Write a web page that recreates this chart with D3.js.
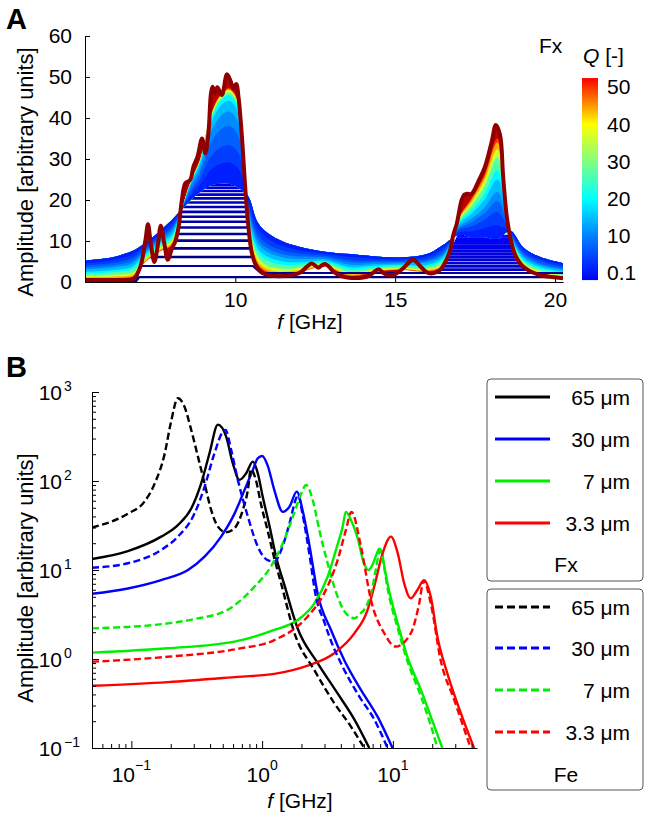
<!DOCTYPE html>
<html><head><meta charset="utf-8">
<script src="https://cdn.jsdelivr.net/npm/d3@7"></script>
<style>
body{margin:0;background:#fff;}
svg text{font-family:"Liberation Sans",Arial,Helvetica,sans-serif;fill:#000;}
</style></head><body>
<svg id="chart" width="650" height="817"></svg>
<script>
// ================= Panel A data =================
const fGridA = [5.3,5.8,6.3,6.8,7.1,7.4,7.7,8.0,8.3,8.6,8.9,9.2,9.5,9.8,10.1,10.4,10.7,11.0,11.5,12.0,12.8,13.6,14.4,15.2,16.0,16.5,17.0,17.4,17.8,18.2,18.6,19.0,19.5,20.25];
const qLevelsA = [7,8.5,10,12,14,17,20,26,32,38,44];
const ampQ7   = [5.2,5.6,6.3,7.6,9.0,10.8,12.8,15.0,17.5,20,22,23.5,24,24,23,21,14.5,12,9.8,8.6,7.4,6.8,6.2,6.0,6.8,9.0,11.5,11,11,10.5,12.5,8.5,6.2,4.6];
const ampQ8_5 = [4.6,4.9,5.6,6.7,8.4,10.2,12.1,14.2,17.4,21.0,23.8,27.1,28.7,29.2,27.6,20.1,13.1,10.7,8.7,7.7,6.9,6.1,5.7,5.6,6.2,8.3,12.1,12.3,13.1,13.8,12.3,7.9,5.6,4.1];
const ampQ10  = [4.0,4.3,4.8,5.9,7.7,9.6,11.4,13.3,17.4,21.8,25.2,30.1,32.6,33.4,31.4,19.2,11.7,9.3,7.6,6.9,6.4,5.3,5.2,5.2,5.6,7.6,12.7,13.6,15.2,17.1,12.1,7.3,5.1,3.6];
const ampQ12  = [3.5,3.8,4.2,5.2,7.2,9.1,10.9,12.7,17.3,22.7,26.8,33.4,36.9,38.1,35.6,18.5,10.6,8.3,6.7,6.2,6.0,4.8,4.8,4.9,5.2,7.0,13.1,14.6,16.8,19.7,12.0,6.8,4.6,3.3];
const ampQ14  = [3.1,3.3,3.7,4.6,6.8,8.6,10.4,12.1,17.3,23.4,28.0,35.9,40.1,41.6,38.8,17.9,9.6,7.4,6.0,5.6,5.6,4.2,4.4,4.6,4.8,6.5,13.5,15.5,18.2,22.0,11.8,6.3,4.2,2.9];
const ampQ17  = [2.5,2.7,3.0,3.8,6.2,8.1,9.8,11.3,17.2,23.9,28.9,37.7,42.5,44.2,41.1,17.0,8.3,6.2,5.0,4.8,5.2,3.6,4.0,4.2,4.2,5.9,14.1,16.7,20.1,25.0,11.6,5.8,3.7,2.5];
const ampQ20  = [2.1,2.2,2.5,3.2,5.7,7.6,9.3,10.7,17.2,24.1,29.4,38.7,43.8,45.6,42.3,16.4,7.4,5.3,4.2,4.2,4.8,3.0,3.6,3.9,3.8,5.4,14.5,17.6,21.6,27.3,11.5,5.3,3.3,2.2];
const ampQ26  = [1.5,1.6,1.8,2.4,5.1,7.1,8.7,9.9,17.1,24.3,29.6,39.2,44.4,46.3,43.0,15.5,6.1,4.0,3.2,3.5,4.4,2.4,3.2,3.5,3.3,4.7,15.0,18.8,23.5,30.4,11.3,4.8,2.8,1.7];
const ampQ32  = [1.2,1.2,1.4,1.8,4.7,6.7,8.2,9.4,17.1,24.4,29.8,39.5,44.9,46.8,43.4,15.0,5.2,3.2,2.5,2.9,4.0,1.9,2.8,3.2,2.9,4.3,15.4,19.6,24.8,32.4,11.2,4.4,2.4,1.4];
const ampQ38  = [0.9,0.9,1.0,1.4,4.4,6.4,7.9,9.0,17.0,24.4,29.8,39.7,45.1,47.0,43.6,14.6,4.6,2.6,2.0,2.5,3.8,1.6,2.6,3.1,2.7,3.9,15.6,20.2,25.7,34.0,11.1,4.1,2.2,1.2];
const ampQ44  = [0.7,0.7,0.8,1.2,4.2,6.2,7.7,8.8,17.0,24.5,29.9,39.8,45.3,47.3,43.8,14.3,4.1,2.2,1.6,2.3,3.7,1.3,2.5,2.9,2.5,3.7,15.8,20.6,26.4,35.0,11.1,3.9,2.0,1.0];
// Q = 50 envelope (thick dark-red curve)
const envQ50 = [[5.3,0.5],[6.0,0.5],[6.6,0.55],[6.82,0.8],[7.03,3.7],[7.19,10.2],[7.27,14.1],[7.36,9.2],[7.47,4.9],[7.57,8.6],[7.67,13.7],[7.78,9.4],[7.89,5.4],[8.02,8.2],[8.12,9.8],[8.23,13.5],[8.33,20],[8.44,24.1],[8.59,24.9],[8.69,28.1],[8.82,30.6],[8.96,35.0],[9.06,31.4],[9.16,36.3],[9.24,46],[9.29,47.6],[9.37,46],[9.44,47.5],[9.58,45.6],[9.74,50.7],[9.86,48.9],[9.94,47.2],[10.03,48.3],[10.1,45.2],[10.2,36.3],[10.31,23.2],[10.41,13.5],[10.52,7],[10.67,3.7],[10.85,2.2],[11.1,1.6],[11.6,1.5],[12.03,2.3],[12.25,3.8],[12.39,4.5],[12.5,4.0],[12.6,3.5],[12.7,4.0],[12.81,4.4],[12.95,3.6],[13.07,2.5],[13.3,1.5],[13.5,1.1],[14.0,1.1],[14.2,1.6],[14.32,2.3],[14.48,3.1],[14.63,2.2],[14.8,1.7],[14.94,1.7],[15.1,2.4],[15.26,3.4],[15.45,4.9],[15.57,5.5],[15.7,4.6],[15.78,3.9],[15.95,2.6],[16.09,2.1],[16.25,2.3],[16.4,2.9],[16.55,4.6],[16.72,7.8],[16.82,11.5],[16.93,14.3],[17.08,20],[17.16,21.3],[17.24,21.5],[17.39,21.5],[17.6,24.5],[17.81,28.1],[18.02,34.2],[18.15,38.3],[18.28,35.9],[18.38,25.5],[18.51,14.9],[18.7,7.8],[18.85,5.2],[19.01,3.7],[19.25,2.5],[19.53,1.7],[19.9,1.2],[20.25,0.9]];
// low-Q curves seen as flat segments inside the 7-10.5 GHz band
const lowQHeights = [6.1,8.2,10.1,11.7,13.3,14.7,15.9,17.1,18.3,19.4,20.4,21.3,22.2,23.0,23.7];
const lowQStart   = [7.12,7.75,8.1,8.16,8.21,8.24,8.26,8.28,8.29,8.3,8.31,8.32,8.33,8.36,8.4];
const lowQEnd     = [10.55,10.5,10.46,10.43,10.41,10.4,10.385,10.37,10.36,10.35,10.34,10.33,10.32,10.31,10.3];
// low-Q curves inside the 17-18.5 GHz band
const peak2Heights = [3.0,3.8,4.6,5.4,6.1,6.8,7.5,8.2,8.8,9.4,10.0,10.6,11.2];
const peak2Start   = [16.41,16.46,16.51,16.56,16.61,16.65,16.7,16.74,16.78,16.82,16.86,16.9,16.93];
const peak2End     = [19.15,19.0,18.91,18.84,18.8,18.76,18.72,18.69,18.67,18.66,18.64,18.62,18.6];
// lowest-Q curves (nearly flat)
const baseQ01 = [[5.3,0.25],[6.9,0.25],[7.0,1.2],[20.25,1.2]];
const baseQ05 = [[5.3,0.3],[6.9,0.3],[7.02,3.9],[10.55,3.9],[10.8,2.2],[20.25,2.2]];
const xTicksA = [10,15,20];
const yTicksA = [0,10,20,30,40,50,60];
const cbTicks = [0.1,10,20,30,40,50];
const cbTickLabels = ["0.1","10","20","30","40","50"];

// ================= Panel B data =================
const fx65 = [[0.05,13.3],[0.094,16.3],[0.169,23.7],[0.227,32],[0.287,49],[0.342,94],[0.396,205],[0.459,430],[0.531,315],[0.597,158],[0.671,103],[0.755,122],[0.849,165],[0.927,122],[1.01,67],[1.14,31],[1.28,14],[1.48,6.8],[1.87,2.2],[2.66,0.9],[3.78,0.41],[5.07,0.21],[6.6,0.1]];
const fx30 = [[0.05,5.4],[0.094,6.2],[0.169,7.7],[0.271,10],[0.363,14.1],[0.486,23.7],[0.615,43],[0.733,79],[0.849,133],[0.927,180],[1.0,191],[1.1,151],[1.24,79],[1.44,45],[1.62,51.5],[1.84,76],[2.04,47],[2.3,19],[2.66,5.4],[3.37,2.1],[4.25,0.97],[5.7,0.45],[7.64,0.225],[9.94,0.1]];
const fx7  = [[0.05,1.18],[0.19,1.32],[0.615,1.57],[1.24,2.12],[1.87,2.74],[2.51,4.22],[3.17,8.4],[3.67,16.8],[4.13,30.7],[4.37,45],[4.8,36],[5.37,23],[6.0,12],[6.5,10],[7.0,11.5],[7.5,15],[7.9,17.3],[8.3,15],[8.6,11],[9.1,7.1],[10.9,2.5],[12.9,1.06],[16.4,0.45],[19.5,0.225],[23.9,0.1]];
const fx33 = [[0.05,0.5],[0.19,0.55],[0.65,0.63],[1.24,0.68],[2.23,0.84],[3.56,1.16],[5.07,1.94],[6.4,3.55],[7.2,6.5],[8.35,15.4],[9.67,23.7],[10.9,15.4],[12.2,7.1],[13.7,4.8],[15.4,5.96],[17.3,7.7],[19.5,5.0],[21.9,1.78],[26.1,0.69],[33.0,0.25],[41.8,0.1]];
const fe65 = [[0.05,30],[0.094,43],[0.126,58.6],[0.151,94],[0.18,204],[0.2,445],[0.227,850],[0.255,683],[0.287,374],[0.323,188],[0.363,94],[0.408,47],[0.459,30.7],[0.531,26.5],[0.615,29.4],[0.711,47],[0.778,79],[0.82,135],[0.9,100],[0.98,55],[1.1,28],[1.24,13.5],[1.4,7],[1.77,1.94],[2.51,0.75],[3.56,0.32],[4.78,0.174],[6.04,0.1]];
const fe30 = [[0.05,10.6],[0.094,11.9],[0.169,16.8],[0.227,23.7],[0.304,43],[0.363,86],[0.432,205],[0.501,358],[0.525,374],[0.58,223],[0.652,103],[0.778,39.8],[0.927,18.3],[1.1,12.9],[1.24,12.4],[1.4,16.8],[1.62,33.4],[1.82,64],[1.88,70],[2.04,42],[2.3,15],[2.58,5.0],[2.99,2.6],[3.27,1.78],[4.13,0.82],[5.53,0.38],[7.2,0.21],[9.1,0.1]];
const fe7  = [[0.05,2.21],[0.19,2.51],[0.3,2.8],[0.55,3.6],[0.875,6.5],[1.17,11],[1.48,22],[1.77,45],[1.99,72],[2.17,90],[2.44,61],[2.74,28],[3.17,11.9],[3.78,5.0],[4.37,3.26],[5.07,2.87],[5.6,3.2],[6.4,4.2],[7.0,6.5],[7.4,10],[8.0,16.5],[8.5,11.5],[9.1,6.3],[10.9,2.2],[12.9,0.95],[16.4,0.38],[19.5,0.18],[21.9,0.1]];
const fe33 = [[0.05,0.93],[0.19,1.06],[0.65,1.3],[1.24,1.63],[2.23,3.0],[2.99,5.5],[3.78,12.9],[4.37,28],[4.83,45],[5.7,18.3],[6.8,4.6],[8.6,1.94],[10.5,1.38],[13.7,1.94],[15.9,4.2],[17.2,7.6],[19.5,4.2],[23.2,0.97],[29.4,0.35],[39.4,0.1]];
const sizeLabels = ["65 \u03bcm","30 \u03bcm","7 \u03bcm","3.3 \u03bcm"];
const sizeColors = ["#000000","#0000ff","#00ee00","#ff0000"];
const yTicksB = [0.1,1,10,100,1000];
const yExpB = ["\u22121","0","1","2","3"];
const xTicksB = [0.1,1,10];
const xExpB = ["\u22121","0","1"];

// ================= helpers =================
function jet(t){
  const c = v => Math.max(0, Math.min(1, v));
  return d3.rgb(255*c(1.5-Math.abs(4*t-3)), 255*c(1.5-Math.abs(4*t-2)), 255*c(1.5-Math.abs(4*t-1))).toString();
}
const FS = 21, FT = 22;
const svg = d3.select("#chart");
const defs = svg.append("defs");

// ================= Panel A =================
const xA = d3.scaleLinear().domain([5.3, 20.25]).range([85, 563]);
const yA = d3.scaleLinear().domain([0, 60]).range([282, 36]);
defs.append("clipPath").attr("id","clipA").append("rect")
  .attr("x",85).attr("y",20).attr("width",478).attr("height",262);
const plotA = svg.append("g").attr("clip-path","url(#clipA)");

lowQHeights.forEach((h,i)=>{
  plotA.append("line").attr("x1",xA(lowQStart[i])).attr("x2",xA(lowQEnd[i]))
    .attr("y1",yA(h)).attr("y2",yA(h))
    .attr("stroke", jet(0.005 + i*0.006)).attr("stroke-width",2.6);
});
peak2Heights.forEach((h,i)=>{
  plotA.append("line").attr("x1",xA(peak2Start[i])).attr("x2",xA(peak2End[i]))
    .attr("y1",yA(h)).attr("y2",yA(h))
    .attr("stroke", jet(0.07 + i*0.005)).attr("stroke-width",2.8);
});

const curvesA = [ampQ7, ampQ8_5, ampQ10, ampQ12, ampQ14, ampQ17, ampQ20, ampQ26, ampQ32, ampQ38, ampQ44];
const toPts = arr => fGridA.map((f,i)=>[xA(f), yA(arr[i])]);
const envPts = envQ50.map(d=>[xA(d[0]), yA(d[1])]);
const cr = d3.line().curve(d3.curveCatmullRom.alpha(0.5));
const topPath = cr(toPts(ampQ7));
const bands = [];
for (let i=1;i<curvesA.length;i++) bands.push({pts: toPts(curvesA[i]), q:(qLevelsA[i-1]+qLevelsA[i])/2});
bands.push({pts: envPts, q:(44+50)/2});
bands.slice().reverse().forEach(b=>{
  const back = cr(b.pts.slice().reverse()).replace(/^M/,"L");
  plotA.append("path").attr("d", topPath + back + "Z")
    .attr("fill", jet(b.q/50)).attr("stroke","none");
});
const lin = d3.line().x(d=>xA(d[0])).y(d=>yA(d[1]));
plotA.append("path").attr("d", lin(baseQ05)).attr("fill","none").attr("stroke","#00009a").attr("stroke-width",2.2);
plotA.append("path").attr("d", lin(baseQ01)).attr("fill","none").attr("stroke","#000080").attr("stroke-width",2.2);
plotA.append("path").attr("d", cr(envPts)).attr("fill","none")
  .attr("stroke","#900000").attr("stroke-width",4).attr("stroke-linejoin","round");

const axYA = svg.append("g").attr("transform","translate(85,0)")
  .call(d3.axisLeft(yA).tickValues(yTicksA).tickSize(-5).tickSizeOuter(0).tickPadding(13));
const axXA = svg.append("g").attr("transform","translate(0,282)")
  .call(d3.axisBottom(xA).tickValues(xTicksA).tickSize(-5).tickSizeOuter(0).tickPadding(10));
[axYA, axXA].forEach(g=>{
  g.attr("font-size",FS).attr("font-family","Liberation Sans, Arial, sans-serif");
  g.selectAll("text").attr("fill","#000");
  g.selectAll("line,path").attr("stroke","#000");
});
svg.append("text").attr("transform","translate(33,172) rotate(-90)")
  .attr("text-anchor","middle").attr("font-size",FT).text("Amplitude [arbitrary units]");
const xtA = svg.append("text").attr("x",310).attr("y",329).attr("text-anchor","middle").attr("font-size",FS);
xtA.append("tspan").attr("font-style","italic").text("f");
xtA.append("tspan").text(" [GHz]");
svg.append("text").attr("x",6).attr("y",29).attr("font-size",29).attr("font-weight","bold").text("A");

// colorbar
const cbY = d3.scaleLinear().domain([0.1,50]).range([273,87]);
const cbLo = -1.8, cbHi = 52.4;
const gradStopsQ = [cbLo,10,20,30,40,cbHi];
const gradStopsT = [0.12,0.25,0.375,0.5,0.625,0.88];
const grad = defs.append("linearGradient").attr("id","cbGrad")
  .attr("x1",0).attr("y1",1).attr("x2",0).attr("y2",0);
gradStopsQ.forEach((q,i)=>{
  grad.append("stop").attr("offset",(cbY(cbLo)-cbY(q))/(cbY(cbLo)-cbY(cbHi)))
    .attr("stop-color", jet(gradStopsT[i]));
});
svg.append("rect").attr("x",582).attr("y",cbY(cbHi)).attr("width",16)
  .attr("height",cbY(cbLo)-cbY(cbHi)).attr("fill","url(#cbGrad)");
cbTicks.forEach((q,i)=>{
  svg.append("text").attr("x",607).attr("y",cbY(q)).attr("dy","0.35em")
    .attr("font-size",FS).text(cbTickLabels[i]);
});
svg.append("text").attr("x",539).attr("y",53).attr("font-size",FS).text("Fx");
const qt = svg.append("text").attr("x",583).attr("y",63).attr("font-size",FS);
qt.append("tspan").attr("font-style","italic").text("Q");
qt.append("tspan").text(" [-]");

// ================= Panel B =================
const xB = d3.scaleLog().domain([0.05, 44]).range([92, 477]);
const yB = d3.scaleLog().domain([0.1, 1000]).range([748, 392]);
defs.append("clipPath").attr("id","clipB").append("rect")
  .attr("x",92).attr("y",380).attr("width",385).attr("height",368);
const plotB = svg.append("g").attr("clip-path","url(#clipB)");
const lineB = d3.line().x(d=>xB(d[0])).y(d=>yB(d[1])).curve(d3.curveMonotoneX);
const fxSeries = [fx65, fx30, fx7, fx33];
const feSeries = [fe65, fe30, fe7, fe33];
fxSeries.forEach((s,i)=>{
  plotB.append("path").attr("d", lineB(s)).attr("fill","none")
    .attr("stroke", sizeColors[i]).attr("stroke-width",2.4);
});
feSeries.forEach((s,i)=>{
  plotB.append("path").attr("d", lineB(s)).attr("fill","none")
    .attr("stroke", sizeColors[i]).attr("stroke-width",2.4).attr("stroke-dasharray","7,3.5");
});

const yMinorB = [], xMinorB = [];
[-1,0,1,2].forEach(k=>{ for(let m=2;m<=9;m++) yMinorB.push(m*Math.pow(10,k)); });
[0.05,0.06,0.07,0.08,0.09].forEach(v=>xMinorB.push(v));
[-1,0].forEach(k=>{ for(let m=2;m<=9;m++) xMinorB.push(m*Math.pow(10,k)); });
[20,30,40].forEach(v=>xMinorB.push(v));
const gyB = svg.append("g").attr("transform","translate(92,0)");
gyB.call(d3.axisLeft(yB).tickValues(yTicksB).tickSize(-7).tickSizeOuter(0).tickFormat(""));
gyB.append("g").call(d3.axisLeft(yB).tickValues(yMinorB).tickSize(-4).tickSizeOuter(0).tickFormat(""))
  .select(".domain").remove();
const gxB = svg.append("g").attr("transform","translate(0,748)");
gxB.call(d3.axisBottom(xB).tickValues(xTicksB).tickSize(-7).tickSizeOuter(0).tickFormat(""));
gxB.append("g").call(d3.axisBottom(xB).tickValues(xMinorB).tickSize(-4).tickSizeOuter(0).tickFormat(""))
  .select(".domain").remove();
[gyB,gxB].forEach(g=>g.selectAll("line,path").attr("stroke","#000"));

yTicksB.forEach((v,i)=>{
  svg.append("text").attr("x",62).attr("y",yB(v)+8).attr("text-anchor","end").attr("font-size",FS).text("10");
  svg.append("text").attr("x",64).attr("y",yB(v)-1).attr("font-size",14).text(yExpB[i]);
});
xTicksB.forEach((v,i)=>{
  const t = svg.append("text").attr("x",xB(v)).attr("y",782).attr("text-anchor","middle").attr("font-size",FS);
  t.append("tspan").text("10");
  t.append("tspan").attr("dy",-12).attr("font-size",14).text(xExpB[i]);
});
svg.append("text").attr("transform","translate(33,578) rotate(-90)")
  .attr("text-anchor","middle").attr("font-size",FT).text("Amplitude [arbitrary units]");
const xtB = svg.append("text").attr("x",300).attr("y",808).attr("text-anchor","middle").attr("font-size",FS);
xtB.append("tspan").attr("font-style","italic").text("f");
xtB.append("tspan").text(" [GHz]");
svg.append("text").attr("x",6).attr("y",377).attr("font-size",29).attr("font-weight","bold").text("B");

function legend(y0, h, rows, dashed, title, titleY){
  svg.append("rect").attr("x",487).attr("y",y0).attr("width",156).attr("height",h)
    .attr("rx",4).attr("fill","#fff").attr("stroke","#555").attr("stroke-width",1);
  sizeLabels.forEach((lab,i)=>{
    const ry = rows[i];
    svg.append("line").attr("x1",495).attr("x2",550).attr("y1",ry).attr("y2",ry)
      .attr("stroke",sizeColors[i]).attr("stroke-width",3)
      .attr("stroke-dasharray", dashed ? "8,4" : null);
    svg.append("text").attr("x",630).attr("y",ry+8).attr("text-anchor","end").attr("font-size",FS).text(lab);
  });
  svg.append("text").attr("x",566).attr("y",titleY).attr("text-anchor","middle").attr("font-size",FS).text(title);
}
legend(379, 202, [397,439,481,523], false, "Fx", 572);
legend(589, 201, [607,648,690,732], true, "Fe", 782);
</script>
</body></html>
